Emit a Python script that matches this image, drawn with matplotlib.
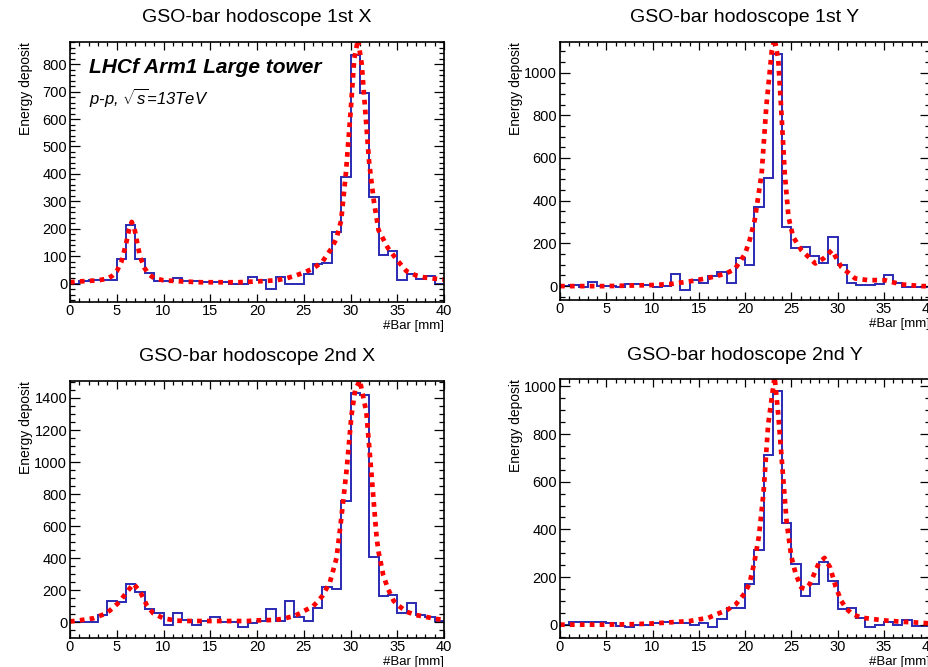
import numpy as np
import matplotlib
matplotlib.use('Agg')
import matplotlib.pyplot as plt
from matplotlib.ticker import MultipleLocator

plt.rcParams['font.family'] = ['Liberation Sans', 'DejaVu Sans']
plt.rcParams['mathtext.fontset'] = 'custom'
plt.rcParams['mathtext.rm'] = 'Liberation Sans'
plt.rcParams['mathtext.it'] = 'Liberation Sans:italic'

# bin edges of the 40 GSO bars (1 mm each)
bar_edges = np.arange(0, 41)

# histogram contents (energy deposit per bar)
x1_vals = [0, 10, 12, 12, 15, 88, 215, 90, 40, 10, 10, 20, 10, 8, 5, 5, 5, -3, -3, 25,
           12, -20, 25, 0, -2, 35, 72, 75, 188, 390, 835, 695, 316, 104, 118, 12, 36, 18, 27, 0]
y1_vals = [0, 5, -5, 18, 0, 0, -5, 8, 8, 5, -5, 0, 55, -18, 28, 15, 48, 68, 15, 130,
           98, 370, 507, 1085, 275, 180, 185, 140, 106, 228, 98, 15, 5, 5, 12, 50, 15, -5, -5, -5]
x2_vals = [0, 3, 3, 46, 130, 126, 238, 188, 85, 56, -18, 56, 15, -14, 6, 33, 4, 4, -28, -5,
           10, 80, 5, 135, 30, 5, 88, 220, 210, 760, 1430, 1420, 408, 165, 172, 58, 123, 46, 31, 10]
y2_vals = [0, 12, 12, 12, 12, 8, -5, -8, 0, 0, 5, 10, 5, 8, 0, 5, -10, 25, 70, 70,
           170, 315, 710, 980, 425, 255, 120, 170, 265, 185, 65, 70, 30, -10, 0, 10, 0, 20, -5, -5]

# fitted curves
fit_x1_x = [0, 1, 2, 3, 4, 4.5, 5, 5.5, 6, 6.3, 6.6, 6.9, 7.2, 7.5, 8, 8.5, 9, 10, 11, 12, 14, 16, 18, 20,
            22, 23, 24, 25, 26, 27, 28, 28.5, 29, 29.5, 30, 30.4, 30.8, 31.2, 31.6, 32, 32.5, 33, 34,
            35, 36, 37, 38, 39, 40]
fit_x1_y = [5, 8, 10, 12, 18, 28, 45, 80, 146, 195, 225, 200, 146, 97, 55, 32, 20, 12, 10, 8, 5, 5, 5, 8,
            12, 18, 28, 40, 55, 80, 130, 165, 230, 400, 620, 820, 890, 800, 620, 440, 300, 195, 130,
            85, 45, 30, 22, 18, 15]
fit_y1_x = [0, 5, 10, 12, 14, 16, 17, 18, 18.9, 20, 20.5, 21.05, 21.8, 22.3, 22.9, 23.2, 23.6, 23.9,
            24.3, 24.7, 25.2, 26.1, 27.6, 28.5, 29.4, 30.4, 31.9, 33.3, 35.1, 36.9, 39.1, 40]
fit_y1_y = [0, 0, 5, 10, 22, 38, 48, 60, 80, 150, 215, 309, 527, 839, 1104, 1160, 1058, 839,
            527, 324, 231, 168, 106, 130, 168, 90, 36, 28, 28, 8, 0, 0]
fit_x2_x = [0, 1, 2.5, 3.9, 4.6, 5.3, 6.1, 6.8, 7.5, 8.2, 8.9, 10, 11.4, 13, 15, 17, 19, 20, 22, 23,
            24, 24.6, 25, 26, 26.4, 27, 27.8, 28.5, 28.9, 29.6, 30.1, 30.5, 31, 31.7, 32.25, 32.8,
            33, 33.5, 34, 34.6, 35, 36, 37, 38, 39, 40]
fit_x2_y = [5, 12, 25, 56, 90, 128, 191, 240, 191, 108, 56, 25, 10, 8, 8, 8, 8, 12, 15, 25,
            40, 56, 70, 100, 125, 165, 250, 400, 590, 960, 1290, 1450, 1510, 1310, 920, 525,
            440, 295, 210, 135, 110, 66, 45, 35, 22, 15]
fit_y2_x = [0, 2, 5, 8, 10, 12, 14, 15, 16, 17, 18, 19, 20, 20.5, 21, 21.5, 22, 22.5, 23.2, 23.6,
            24.1, 24.5, 25, 25.5, 26.1, 26.5, 27, 27.5, 28, 28.6, 29.2, 29.8, 30.4, 31, 31.6, 32.5,
            33.5, 35, 36, 37, 38, 39, 40]
fit_y2_y = [0, 0, 0, 2, 5, 10, 15, 22, 28, 45, 60, 85, 133, 175, 259, 370, 552, 839, 1040, 880,
            629, 430, 287, 210, 155, 150, 170, 215, 260, 280, 240, 160, 100, 65, 45, 30,
            25, 18, 15, 12, 10, 8, 5]

W, H = 929, 667
fig = plt.figure(figsize=(W / 100, H / 100), dpi=100)


def px_axes(left, top, right, bottom):
    return fig.add_axes([left / W, 1 - bottom / H, (right - left) / W, (bottom - top) / H])


panels = [
    # title, values, fit x, fit y, ylim, major, minor, box (left, top, right, bottom)
    ('GSO-bar hodoscope 1st X', x1_vals, fit_x1_x, fit_x1_y, (-67, 881), 100, 20, (70, 42, 444, 302)),
    ('GSO-bar hodoscope 1st Y', y1_vals, fit_y1_x, fit_y1_y, (-65, 1143), 200, 50, (560, 42, 930, 300)),
    ('GSO-bar hodoscope 2nd X', x2_vals, fit_x2_x, fit_x2_y, (-98, 1506), 200, 50, (70, 381, 444, 638)),
    ('GSO-bar hodoscope 2nd Y', y2_vals, fit_y2_x, fit_y2_y, (-56, 1031), 200, 50, (560, 379, 930, 638)),
]

axes = []
for title, vals, fx, fy, ylim, major, minor, box in panels:
    ax = px_axes(*box)
    axes.append(ax)
    ax.stairs(vals, bar_edges, color='#2a2ab4', lw=1.4, baseline=None)
    ax.plot(fx, fy, color='#ff0000', lw=3.4, linestyle=(0, (1, 1.1)), dash_capstyle='butt')
    ax.set_xlim(0, 40)
    ax.set_ylim(*ylim)
    ax.xaxis.set_major_locator(MultipleLocator(5))
    ax.xaxis.set_minor_locator(MultipleLocator(1))
    ax.yaxis.set_major_locator(MultipleLocator(major))
    ax.yaxis.set_minor_locator(MultipleLocator(minor))
    ax.tick_params(which='both', direction='in', top=True, right=True, width=0.9, labelsize=10.5)
    ax.tick_params(axis='y', which='major', length=7, pad=2)
    ax.tick_params(axis='y', which='minor', length=3.5)
    ax.tick_params(axis='x', which='major', length=6, pad=1.5)
    ax.tick_params(axis='x', which='minor', length=3)
    for s in ax.spines.values():
        s.set_linewidth(1.2)
    ax.text(0.5, 1 + 24 / (box[3] - box[1]), title, transform=ax.transAxes,
            ha='center', va='center', fontsize=14)
    ax.text(-44 / (box[2] - box[0]), 1.0, 'Energy deposit', transform=ax.transAxes,
            rotation=90, ha='center', va='top', fontsize=10)
    ax.text(1.0, -18 / (box[3] - box[1]), '#Bar [mm]', transform=ax.transAxes,
            ha='right', va='top', fontsize=9.5)

axes[0].text(0.051, 0.88, 'LHCf Arm1 Large tower', transform=axes[0].transAxes,
             fontsize=15, fontweight='bold', style='italic', ha='left', va='baseline')
axes[0].text(0.051, 0.762, r'$p$-$p$, $\sqrt{s}$=13TeV', transform=axes[0].transAxes,
             fontsize=12, style='italic', ha='left', va='baseline')

fig.savefig('out.png', dpi=100)
